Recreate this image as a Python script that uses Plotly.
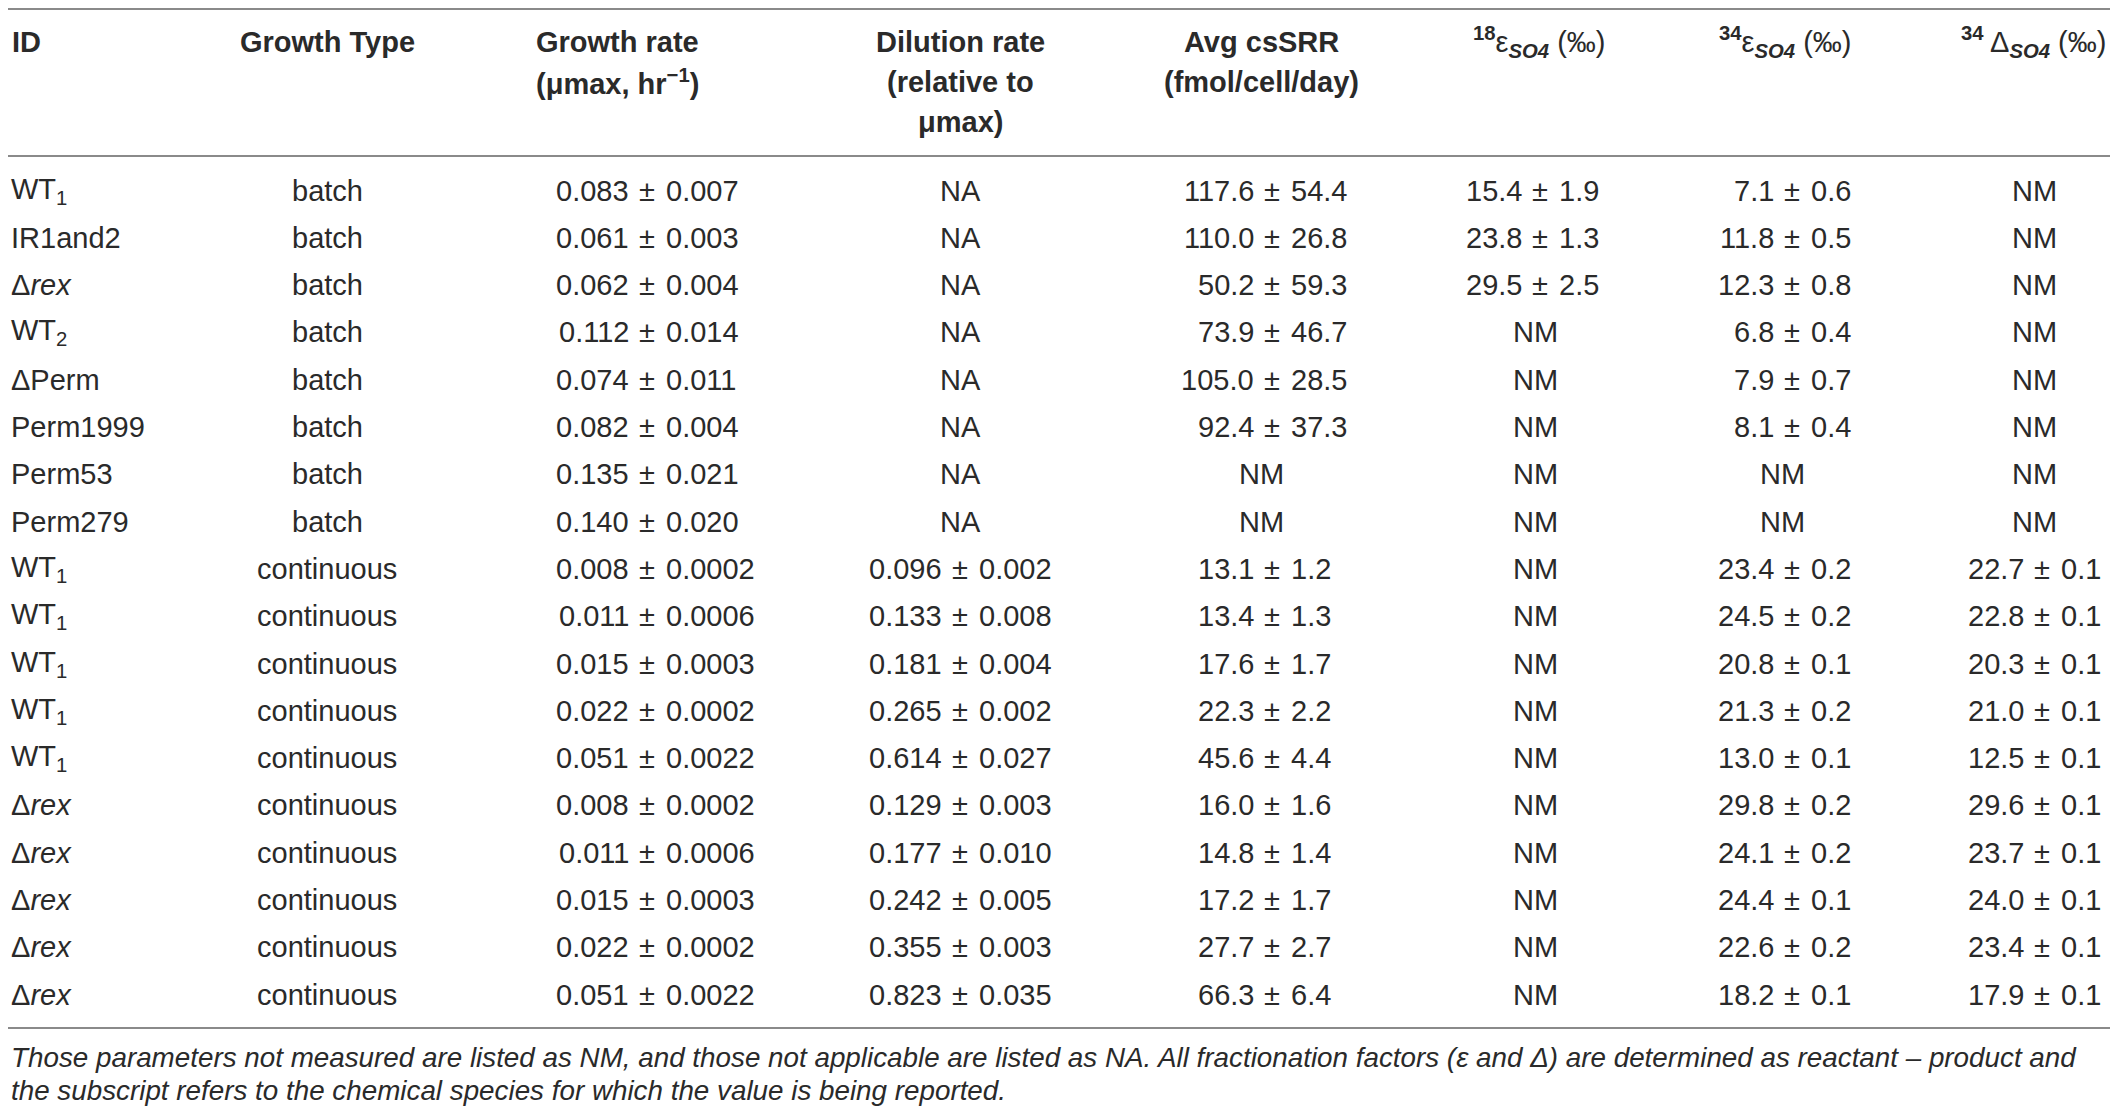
import plotly.graph_objects as go

# table data, one list per column
ids = ['WT<sub>1</sub>', 'IR1and2', 'Δ<i>rex</i>', 'WT<sub>2</sub>', 'ΔPerm', 'Perm1999', 'Perm53', 'Perm279',
       'WT<sub>1</sub>', 'WT<sub>1</sub>', 'WT<sub>1</sub>', 'WT<sub>1</sub>', 'WT<sub>1</sub>',
       'Δ<i>rex</i>', 'Δ<i>rex</i>', 'Δ<i>rex</i>', 'Δ<i>rex</i>', 'Δ<i>rex</i>']
growth_type = ['batch', 'batch', 'batch', 'batch', 'batch', 'batch', 'batch', 'batch',
               'continuous', 'continuous', 'continuous', 'continuous', 'continuous',
               'continuous', 'continuous', 'continuous', 'continuous', 'continuous']
growth_rate = ['0.083 ± 0.007', '0.061 ± 0.003', '0.062 ± 0.004', '0.112 ± 0.014', '0.074 ± 0.011',
               '0.082 ± 0.004', '0.135 ± 0.021', '0.140 ± 0.020',
               '0.008 ± 0.0002', '0.011 ± 0.0006', '0.015 ± 0.0003', '0.022 ± 0.0002', '0.051 ± 0.0022',
               '0.008 ± 0.0002', '0.011 ± 0.0006', '0.015 ± 0.0003', '0.022 ± 0.0002', '0.051 ± 0.0022']
dilution_rate = ['NA', 'NA', 'NA', 'NA', 'NA', 'NA', 'NA', 'NA',
                 '0.096 ± 0.002', '0.133 ± 0.008', '0.181 ± 0.004', '0.265 ± 0.002', '0.614 ± 0.027',
                 '0.129 ± 0.003', '0.177 ± 0.010', '0.242 ± 0.005', '0.355 ± 0.003', '0.823 ± 0.035']
avg_cssrr = ['117.6 ± 54.4', '110.0 ± 26.8', '50.2 ± 59.3', '73.9 ± 46.7', '105.0 ± 28.5', '92.4 ± 37.3',
             'NM', 'NM',
             '13.1 ± 1.2', '13.4 ± 1.3', '17.6 ± 1.7', '22.3 ± 2.2', '45.6 ± 4.4',
             '16.0 ± 1.6', '14.8 ± 1.4', '17.2 ± 1.7', '27.7 ± 2.7', '66.3 ± 6.4']
eps18 = ['15.4 ± 1.9', '23.8 ± 1.3', '29.5 ± 2.5', 'NM', 'NM', 'NM', 'NM', 'NM',
         'NM', 'NM', 'NM', 'NM', 'NM', 'NM', 'NM', 'NM', 'NM', 'NM']
eps34 = ['7.1 ± 0.6', '11.8 ± 0.5', '12.3 ± 0.8', '6.8 ± 0.4', '7.9 ± 0.7', '8.1 ± 0.4', 'NM', 'NM',
         '23.4 ± 0.2', '24.5 ± 0.2', '20.8 ± 0.1', '21.3 ± 0.2', '13.0 ± 0.1',
         '29.8 ± 0.2', '24.1 ± 0.2', '24.4 ± 0.1', '22.6 ± 0.2', '18.2 ± 0.1']
delta34 = ['NM', 'NM', 'NM', 'NM', 'NM', 'NM', 'NM', 'NM',
           '22.7 ± 0.1', '22.8 ± 0.1', '20.3 ± 0.1', '21.0 ± 0.1', '12.5 ± 0.1',
           '29.6 ± 0.1', '23.7 ± 0.1', '24.0 ± 0.1', '23.4 ± 0.1', '17.9 ± 0.1']

footnote = ['Those parameters not measured are listed as NM, and those not applicable are listed as NA. '
            'All fractionation factors (ε and Δ) are determined as reactant – product and',
            'the subscript refers to the chemical species for which the value is being reported.']

# page is 2118x1117, the html body adds an 8px margin, so the figure covers page px 8..2110 / 8..1109
PAGE_W, PAGE_H, BODY = 2118, 1117, 8
W, H = PAGE_W - 2 * BODY, PAGE_H - 2 * BODY
ROW0, ROWH = 190.5, 47.3          # page y of first row centre, row pitch
FONT = 'Liberation Sans, Arial, sans-serif'
TXT = '#2a2a2a'
SIZE = 29
PM_GAP = 16.5


def yrow(py):
    # page pixel y -> row units of the y axis
    return (py - ROW0) / ROWH


fig = go.Figure()
fig.add_trace(go.Scatter(x=[BODY, PAGE_W - BODY], y=[0, 0], mode='markers', marker={'opacity': 0},
                         hoverinfo='skip', showlegend=False))


def text(x, y, s, anchor='center', size=SIZE):
    fig.add_annotation(x=x, y=y, text=s, xanchor=anchor, yanchor='middle', showarrow=False,
                       font={'family': FONT, 'size': size, 'color': TXT})


# header
hdr = [
    (10, 'left', ['<b>ID</b>']),
    (327, 'center', ['<b>Growth Type</b>']),
    (617, 'center', ['<b>Growth rate</b>', '<b>(μmax, hr<sup>−1</sup>)</b>']),
    (960, 'center', ['<b>Dilution rate</b>', '<b>(relative to</b>', '<b>μmax)</b>']),
    (1261, 'center', ['<b>Avg csSRR</b>', '<b>(fmol/cell/day)</b>']),
    (1607, 'right', ['<b><sup>18</sup></b>ε<b><sub><i>SO4</i></sub></b> (‰)']),
    (1853, 'right', ['<b><sup>34</sup></b>ε<b><sub><i>SO4</i></sub></b> (‰)']),
    (2108, 'right', ['<b><sup>34</sup></b> Δ<b><sub><i>SO4</i></sub></b> (‰)']),
]
for x, anchor, lines in hdr:
    for k, ln in enumerate(lines):
        text(x, yrow([42, 82, 122][k]), ln, anchor)

# body
for i, (a, b) in enumerate(zip(ids, growth_type)):
    text(9, i, a, 'left')
    text(327, i, b)

pm_cols = [(growth_rate, 647, 647), (dilution_rate, 960, 960), (avg_cssrr, 1272, 1261),
           (eps18, 1540, 1535), (eps34, 1792, 1782), (delta34, 2042, 2034)]
for vals, pm, na in pm_cols:
    for i, v in enumerate(vals):
        if ' ± ' in v:
            left, right = v.split(' ± ')
            text(pm - PM_GAP, i, left, 'right')
            text(pm, i, '±')
            text(pm + PM_GAP, i, right, 'left')
        else:
            text(na, i, v)

for k, ln in enumerate(footnote):
    text(9, yrow([1057, 1090][k]), '<i>' + ln + '</i>', 'left', 27.8)

# rules
for py in [9, 156, 1028]:
    fig.add_shape(type='line', xref='paper', x0=0, x1=1, y0=yrow(py), y1=yrow(py),
                  line={'color': '#8a8a8a', 'width': 2})

fig.update_layout(
    width=W, height=H, margin={'l': 0, 'r': 0, 't': 0, 'b': 0},
    paper_bgcolor='white', plot_bgcolor='white',
    xaxis={'range': [BODY, PAGE_W - BODY], 'visible': False, 'fixedrange': True},
    yaxis={'range': [yrow(PAGE_H - BODY), yrow(BODY)], 'visible': False, 'fixedrange': True},
    font={'family': FONT, 'color': TXT},
)
fig.write_html('out.html')
